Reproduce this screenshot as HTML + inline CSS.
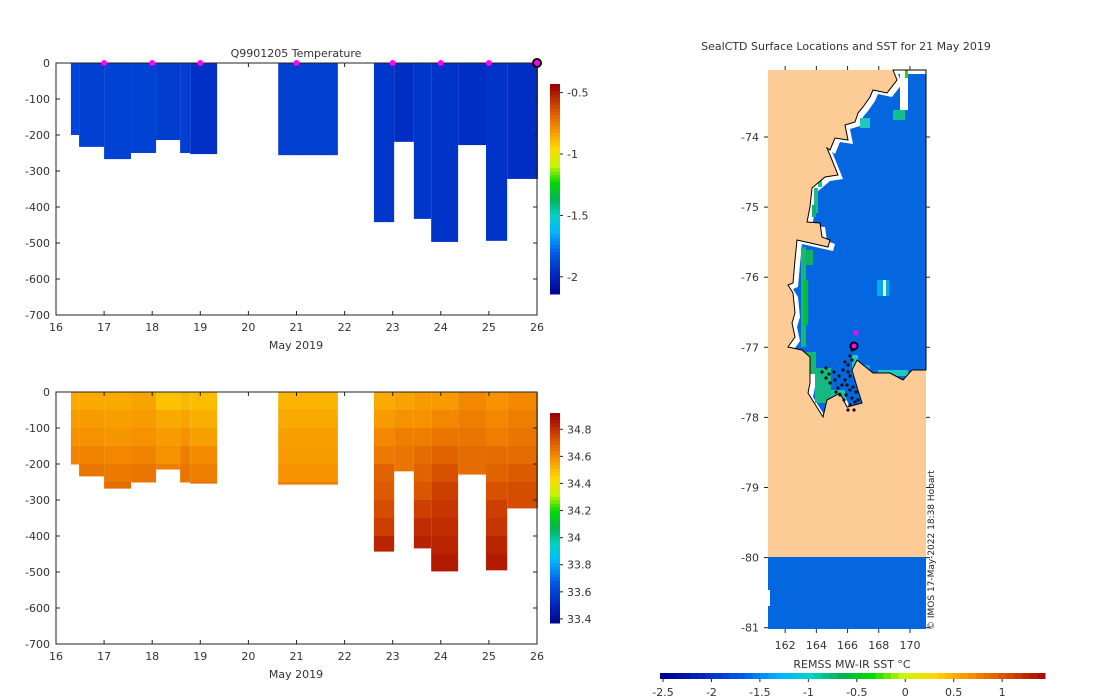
<!DOCTYPE html>
<html><head><meta charset="utf-8">
<style>
body{margin:0;background:#fff;}
svg{display:block;font-family:"DejaVu Sans","Liberation Sans",sans-serif;}
text{fill:#333;font-size:11px;}
</style></head>
<body>
<svg id="fig" width="1100" height="700" viewBox="0 0 1100 700">
<defs><clipPath id="coastClip"><polygon id="cc" points=""/></clipPath></defs>
<g id="top"></g>
<g id="bot"></g>
<g id="map"></g>
</svg>
<script>
const profStart = [16.31,16.48,17.0,17.56,18.08,18.58,18.79,20.62,22.61,23.03,23.44,23.80,24.36,24.94,25.38];
const profEnd   = [16.48,17.0,17.56,18.08,18.58,18.79,19.35,21.86,23.03,23.44,23.80,24.36,24.94,25.38,26.02];
const profDepth = [200,233,267,250,214,250,253,256,442,219,433,497,228,494,322];
const profTemp  = [-1.87,-1.89,-1.88,-1.88,-1.90,-1.89,-1.94,-1.89,-1.92,-1.95,-1.92,-1.93,-1.95,-1.93,-1.95];
const depthLevels = [0,50,100,150,200,250,300,350,400,450];
const profSal = [
 [34.55,34.58,34.60,34.63,34.65],
 [34.55,34.58,34.60,34.63,34.66],
 [34.55,34.57,34.59,34.62,34.65,34.68],
 [34.56,34.58,34.60,34.63,34.66,34.68],
 [34.50,34.55,34.58,34.60,34.64],
 [34.52,34.56,34.60,34.64,34.66,34.68],
 [34.51,34.54,34.57,34.61,34.64,34.68],
 [34.53,34.55,34.57,34.58,34.60,34.64],
 [34.55,34.58,34.62,34.65,34.70,34.72,34.75,34.78,34.84,34.86],
 [34.56,34.60,34.64,34.66,34.66],
 [34.58,34.60,34.64,34.68,34.70,34.73,34.78,34.82,34.85],
 [34.58,34.62,34.66,34.70,34.74,34.78,34.80,34.82,34.84,34.86],
 [34.62,34.64,34.66,34.68,34.68],
 [34.60,34.62,34.64,34.68,34.70,34.74,34.78,34.80,34.84,34.86],
 [34.62,34.64,34.66,34.68,34.72,34.75,34.75]
];
const markerDays = [17,18,19,21,23,24,25,26];
const dayTicks = [16,17,18,19,20,21,22,23,24,25,26];
const depthTicks = [0,-100,-200,-300,-400,-500,-600,-700];
const tempCbTicks = [-0.5,-1,-1.5,-2];
const salCbTicks = [34.8,34.6,34.4,34.2,34,33.8,33.6,33.4];
const sstTicks = [-2.5,-2,-1.5,-1,-0.5,0,0.5,1];
const latTicks = [-74,-75,-76,-77,-78,-79,-80,-81];
const lonTicks = [162,164,166,168,170];

const NS="http://www.w3.org/2000/svg";
function el(p,t,a,txt){const e=document.createElementNS(NS,t);for(const k in a)e.setAttribute(k,a[k]);if(txt!==undefined)e.textContent=txt;p.appendChild(e);return e;}
const stops=[[0,[0,0,140]],[0.1,[0,40,190]],[0.2,[0,90,230]],[0.3,[0,180,255]],[0.38,[0,210,200]],[0.46,[0,180,80]],[0.54,[0,220,0]],[0.62,[200,245,0]],[0.7,[255,215,0]],[0.8,[245,140,0]],[0.9,[210,70,0]],[1,[160,0,0]]];
function cmap(f){f=Math.max(0,Math.min(1,f));for(let i=1;i<stops.length;i++){if(f<=stops[i][0]){const a=stops[i-1],b=stops[i];const t=(f-a[0])/(b[0]-a[0]);const c=a[1].map((v,j)=>Math.round(v+(b[1][j]-v)*t));return `rgb(${c[0]},${c[1]},${c[2]})`;}}return 'rgb(160,0,0)';}

function panel(g,y0,vmin,vmax,cbTicks,isTemp,name){
  const x=d=>56+(d-16)*48.1, y=z=>y0+z*0.36;
  for(let i=0;i<profStart.length;i++){
    if(isTemp){
      const r=el(g,'rect',{x:x(profStart[i]),y:y(0),width:x(profEnd[i])-x(profStart[i]),height:y(profDepth[i])-y(0),fill:cmap((profTemp[i]-vmin)/(vmax-vmin))});
      
      
    } else {
      const s=profSal[i];
      for(let k=0;k<s.length;k++){
        const z0=depthLevels[k], z1=Math.min(profDepth[i], k+1<depthLevels.length?depthLevels[k+1]:profDepth[i]);
        if(z1<=z0)continue;
        const r=el(g,'rect',{x:x(profStart[i]),y:y(z0),width:x(profEnd[i])-x(profStart[i]),height:y(z1)-y(z0)+0.5,fill:cmap((s[k]-vmin)/(vmax-vmin))});
        
        
      }
    }
  }
  el(g,'rect',{x:56,y:y0,width:481,height:252,fill:'none',stroke:'#222','stroke-width':1});
  dayTicks.forEach(d=>{el(g,'line',{x1:x(d),x2:x(d),y1:y0,y2:y0+4,stroke:'#222'});el(g,'line',{x1:x(d),x2:x(d),y1:y0+252,y2:y0+248,stroke:'#222'});
    const t=el(g,'text',{x:x(d),y:y0+268,'text-anchor':'middle'},String(d));});
  depthTicks.forEach(v=>{const yy=y(-v);el(g,'line',{x1:56,x2:60,y1:yy,y2:yy,stroke:'#222'});el(g,'line',{x1:537,x2:533,y1:yy,y2:yy,stroke:'#222'});
    const t=el(g,'text',{x:50,y:yy+4,'text-anchor':'end'},String(v));});
  const xl=el(g,'text',{x:296,y:y0+286,'text-anchor':'middle'},'May 2019');
  const cbTop=y0+21, cbH=210, n=60;
  for(let k=0;k<n;k++){el(g,'rect',{x:550,y:cbTop+cbH*k/n,width:10,height:cbH/n+0.5,fill:cmap(1-k/n)});}
  const cb=el(g,'rect',{x:550,y:cbTop,width:10,height:cbH,fill:'none'});
  cbTicks.forEach(v=>{const yy=cbTop+cbH*(vmax-v)/(vmax-vmin);el(g,'line',{x1:560,x2:563,y1:yy,y2:yy,stroke:'#222'});
    const t=el(g,'text',{x:567,y:yy+4},String(v));});
  return x;
}
const topG=document.getElementById('top');
const xT=panel(topG,63,-2.14,-0.43,tempCbTicks,true,'temperature');
const tt=el(topG,'text',{x:296,y:57,'text-anchor':'middle'},'Q9901205  Temperature');
markerDays.forEach((d,i)=>{const last=i===markerDays.length-1;const c=el(topG,'circle',{cx:xT(d),cy:63,r:last?4:3,fill:'#ff00ff',stroke:last?'#000':'none','stroke-width':2});});
panel(document.getElementById('bot'),392,33.37,34.92,salCbTicks,false,'salinity');

// ---- map ----
const mg=document.getElementById('map');
const lx=l=>768+(l-160.9)*15.6, ly=l=>137+(-74-l)*70.1;
const bg=el(mg,'rect',{x:768,y:70,width:158,height:559,fill:'#fdcb96'});
el(mg,'rect',{x:768,y:557,width:158,height:72,fill:'#0467e0'});
el(mg,'rect',{x:768,y:590,width:2,height:16,fill:'#fff'});
const coast="893,70 897,80 887,93 873,90 870,97 863,107 858,113 855,122 845,125 848,140 835,138 830,150 827,148 832,160 838,175 825,177 812,188 810,207 807,222 820,223 822,237 830,240 828,247 797,240 795,260 793,283 788,285 793,293 795,313 792,323 795,337 788,347 802,350 810,357 810,383 808,393 823,417 827,400 840,393 847,407 862,403 857,387 852,370 857,360 873,373 890,373 903,380 912,370 926,370 926,70";
document.getElementById('cc').setAttribute('points',coast);
el(mg,'polygon',{points:coast,fill:'#fff'});
const og=el(mg,'g',{'clip-path':'url(#coastClip)'});
const oc=el(og,'polygon',{points:coast,fill:'#0467e0',transform:'translate(5,4)'});

el(og,'rect',{x:900,y:70,width:8,height:40,fill:'#fff'});
[[801,247,5,100,'#14b870'],[804,280,4,45,'#00c030'],[806,250,7,15,'#12b060'],[814,188,4,25,'#20b890'],[818,175,4,12,'#20c0a0'],[812,205,4,12,'#10b070'],[860,118,10,10,'#20c8c0'],[893,110,12,10,'#10c090'],[905,70,3,8,'#40d000'],[806,352,10,22,'#14b870'],[815,368,16,35,'#14b880'],[831,390,14,15,'#20c0a0'],[852,355,6,20,'#20c8c0'],[858,365,12,10,'#00aaf0'],[878,370,30,6,'#20c8c0']].forEach(r=>el(og,'rect',{x:r[0],y:r[1],width:r[2],height:r[3],fill:r[4]}));
el(mg,'polygon',{points:coast,fill:'none',stroke:'#000','stroke-width':1});
el(mg,'rect',{x:877,y:280,width:12,height:16,fill:'#00aaf0'});el(mg,'rect',{x:883,y:280,width:3,height:16,fill:'#fff'});
const dots=[[845,380],[842,385],[848,372],[850,390],[838,388],[835,380],[846,395],[852,398],[855,402],[850,405],[840,395],[843,370],[848,365],[852,360],[830,383],[826,378],[834,372],[854,410],[848,410],[858,400],[836,392],[844,400],[850,376],[847,385],[853,387],[826,368],[829,374],[822,372],[839,376],[856,392],[845,362],[850,356],[852,350]];
dots.forEach(p=>{const c=el(mg,'circle',{cx:p[0],cy:p[1],r:1.6,fill:'#111'});});
el(mg,'circle',{cx:856,cy:333,r:2.5,fill:'#ff00ff'});
const cur=el(mg,'circle',{cx:854,cy:346,r:3.5,fill:'#ff00ff',stroke:'#000','stroke-width':2});
latTicks.forEach(v=>{const yy=ly(v);el(mg,'line',{x1:768,x2:764,y1:yy,y2:yy,stroke:'#222'});el(mg,'line',{x1:926,x2:930,y1:yy,y2:yy,stroke:'#222'});
  const t=el(mg,'text',{x:759,y:yy+4,'text-anchor':'end'},String(v));});
lonTicks.forEach(v=>{const xx=lx(v);el(mg,'line',{x1:xx,x2:xx,y1:629,y2:633,stroke:'#222'});el(mg,'line',{x1:xx,x2:xx,y1:70,y2:66,stroke:'#222'});
  const t=el(mg,'text',{x:xx,y:649,'text-anchor':'middle'},String(v));});
const mt=el(mg,'text',{x:846,y:50,'text-anchor':'middle'},'SealCTD Surface Locations and SST for 21 May 2019');
const cp=el(mg,'text',{x:0,y:0,transform:'translate(934,630) rotate(-90)',style:'font-size:9px;fill:#222'},'© IMOS 17-May-2022 18:38 Hobart');
const sx=v=>663+(v+2.5)*96.9, nC=50;
for(let k=0;k<nC;k++){el(mg,'rect',{x:660+385*k/nC,y:673,width:385/nC+0.5,height:6,fill:cmap(k/nC)});}
sstTicks.forEach(v=>{el(mg,'line',{x1:sx(v),x2:sx(v),y1:679,y2:682,stroke:'#222'});
  const t=el(mg,'text',{x:sx(v),y:696,'text-anchor':'middle'},String(v));});
const cl=el(mg,'text',{x:852,y:668,'text-anchor':'middle'},'REMSS MW-IR SST °C');
</script>
</body></html>
